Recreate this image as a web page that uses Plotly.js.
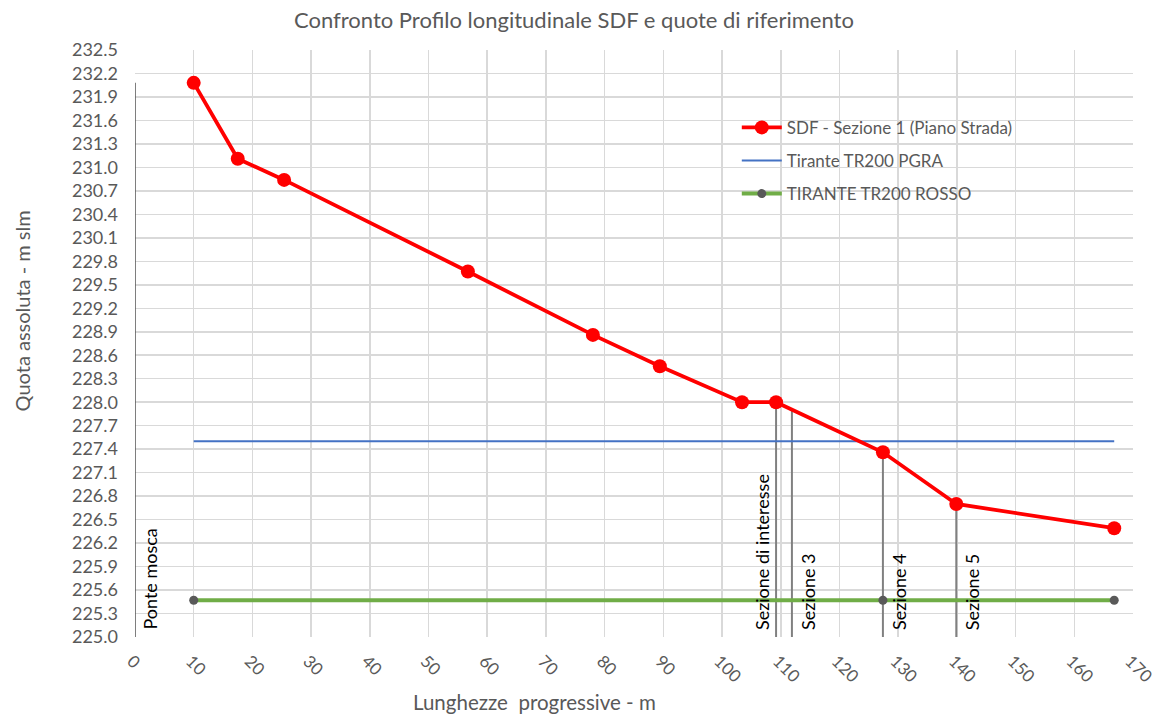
<!DOCTYPE html>
<html><head><meta charset="utf-8">
<script src="https://cdn.plot.ly/plotly-3.0.1.min.js"></script>
<style>html,body{margin:0;padding:0;background:#fff;}#chart{width:1156px;height:717px;}</style>
</head><body><div id="chart"></div>
<script>
// SDF - Sezione 1 (Piano Strada)
const sdfX = [10, 17.5, 25.4, 56.7, 78.0, 89.4, 103.4, 109.2, 127.4, 139.9, 166.8];
const sdfY = [232.08, 231.11, 230.84, 229.67, 228.86, 228.46, 228.00, 228.00, 227.36, 226.70, 226.39];
// Tirante TR200 PGRA
const pgraX = [10, 166.8];
const pgraY = [227.5, 227.5];
// TIRANTE TR200 ROSSO
const rossoX = [10, 127.4, 166.8];
const rossoY = [225.47, 225.47, 225.47];
// Sections (vertical reference lines)
const sectionNames = ["Ponte mosca", "Sezione di interesse", "Sezione 3", "Sezione 4", "Sezione 5"];
const sectionX = [0, 109.2, 111.9, 127.4, 139.9];
const sectionTop = [232.08, 228.00, 227.90, 227.36, 226.70];
const sectionBase = 225.0;
// Axis ticks
const yTicks = [225.0,225.3,225.6,225.9,226.2,226.5,226.8,227.1,227.4,227.7,228.0,228.3,228.6,228.9,229.2,229.5,229.8,230.1,230.4,230.7,231.0,231.3,231.6,231.9,232.2,232.5];
const xTicks = [0,10,20,30,40,50,60,70,80,90,100,110,120,130,140,150,160,170];
// Titles
const chartTitle = "Confronto Profilo longitudinale SDF e quote di riferimento";
const xTitle = "Lunghezze  progressive - m";
const yTitle = "Quota assoluta - m slm";

const FONT = "Lato, 'Open Sans', sans-serif";
const GREY = "#595959";

const traces = [];
sectionX.forEach((x, i) => {
  traces.push({
    x: [x, x], y: [sectionBase, sectionTop[i]], mode: "lines",
    line: {color: i === 0 ? "#555555" : "#808080", width: i === 0 ? 1.5 : 2},
    showlegend: false, hoverinfo: "skip"
  });
});
traces.push({
  x: pgraX, y: pgraY, mode: "lines", name: "Tirante TR200 PGRA",
  line: {color: "#4472c4", width: 2}, legendgroup: "b", legendrank: 2
});
traces.push({
  x: rossoX, y: rossoY, mode: "lines+markers", name: "TIRANTE TR200 ROSSO",
  line: {color: "#70ad47", width: 4}, marker: {color: "#595959", size: 9},
  legendgroup: "c", legendrank: 3
});
traces.push({
  x: sdfX, y: sdfY, mode: "lines+markers", name: "SDF - Sezione 1 (Piano Strada)",
  line: {color: "#ff0000", width: 3.8}, marker: {color: "#ff0000", size: 14},
  legendgroup: "a", legendrank: 1
});

const annotations = sectionNames.map((name, i) => ({
  x: sectionX[i], y: sectionBase, xref: "x", yref: "y",
  text: name, textangle: -90, showarrow: false,
  xanchor: i === 1 ? "right" : "left", yanchor: "bottom",
  xshift: i === 1 ? -1 : (i === 0 ? 1 : 3), yshift: 5,
  font: {family: FONT, size: 18, color: "#000000"}
}));
annotations.push({
  x: 0.4, y: -0.111, xref: "paper", yref: "paper", showarrow: false,
  text: xTitle, xanchor: "center", yanchor: "middle",
  font: {family: FONT, size: 20.5, color: GREY}
});
annotations.push({
  x: -0.113, y: 0.555, xref: "paper", yref: "paper", showarrow: false,
  text: yTitle, textangle: -90, xanchor: "center", yanchor: "middle",
  font: {family: FONT, size: 20, color: GREY}
});

const layout = {
  width: 1156, height: 717,
  margin: {l: 135, r: 23, t: 50, b: 80},
  paper_bgcolor: "#ffffff", plot_bgcolor: "#ffffff",
  font: {family: FONT, color: GREY, size: 17},
  title: {text: chartTitle,
          x: 0.4965, xanchor: "center", y: 0.972, yanchor: "middle",
          font: {family: FONT, size: 22, color: GREY}},
  xaxis: {range: [-0.001, 170.001], tickvals: xTicks, ticktext: xTicks.map(String), tickangle: 45,
          showgrid: true, gridcolor: "#d9d9d9", gridwidth: 1.5, zeroline: false, showline: false,
          ticks: "", ticklabelstandoff: 10, ticklabelshift: -3, ticklabeloverflow: "allow",
          tickfont: {family: FONT, size: 17, color: GREY}},
  yaxis: {range: [225.0, 232.5], tickvals: yTicks, ticktext: yTicks.map(v => v.toFixed(1)),
          showgrid: true, gridcolor: "#d9d9d9", gridwidth: 1.5, zeroline: false, showline: false,
          ticks: "", ticklabelstandoff: 16, tickfont: {family: FONT, size: 18, color: GREY}},
  legend: {x: 0.603, y: 0.898, xanchor: "left", yanchor: "top", bgcolor: "rgba(0,0,0,0)",
           traceorder: "grouped", tracegroupgap: 8, itemwidth: 40,
           font: {family: FONT, size: 17, color: GREY}},
  annotations: annotations,
  hovermode: false
};

Plotly.newPlot("chart", traces, layout, {displayModeBar: false, staticPlot: true});
</script></body></html>
